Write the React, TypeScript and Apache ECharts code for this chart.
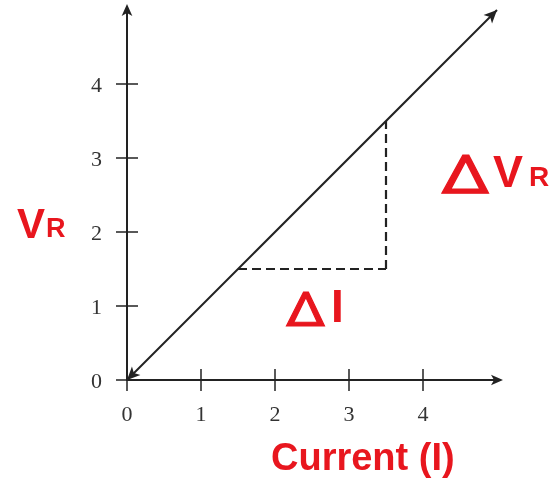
import React, { useEffect, useRef } from "react";
import * as echarts from "echarts";

// Axis range and tick values
const axisMax = 5;
const tickValues = [0, 1, 2, 3, 4];

// V = I·R line (double-headed) from origin
const linePoints: [number, number][] = [
  [0, 0],
  [5, 5],
];

// Slope triangle: horizontal ΔI leg and vertical ΔV_R leg
const deltaIStart: [number, number] = [1.5, 1.5];
const deltaIEnd: [number, number] = [3.5, 1.5];
const deltaVEnd: [number, number] = [3.5, 3.5];

const RED = "#e8161e";
const INK = "#222";
const LABEL_FONT = "'Liberation Sans', Arial, sans-serif";
const DELTA_FONT = "Roboto, sans-serif";
const TICK_FONT = "'Liberation Serif', 'DejaVu Serif', serif";
const TICK_HALF = 11;

function redText(text: string, left: number, top: number, fontSize: number, fontFamily = LABEL_FONT) {
  return {
    type: "text",
    left,
    top,
    silent: true,
    style: { text, fontFamily, fontWeight: "bold", fontSize, fill: RED },
  };
}

// Outlined delta sign, widened to the label's proportions
function delta(left: number, top: number, fontSize: number, scaleX: number) {
  return {
    type: "text",
    left,
    top,
    scaleX,
    silent: true,
    style: {
      text: "Δ",
      fontFamily: DELTA_FONT,
      fontWeight: "normal",
      fontSize,
      fill: RED,
      stroke: RED,
      lineWidth: 1,
    },
  };
}

export default function App() {
  const ref = useRef<HTMLDivElement>(null);

  useEffect(() => {
    if (!ref.current) return;
    const chart = echarts.init(ref.current, undefined, { renderer: "svg" });

    const axisCommon = {
      type: "value" as const,
      min: 0,
      max: axisMax,
      interval: 1,
      axisLine: {
        show: true,
        symbol: ["none", "arrow"],
        symbolSize: [8, 12],
        symbolOffset: [0, 6],
        lineStyle: { color: INK, width: 2 },
      },
      axisTick: { show: false },
      splitLine: { show: false },
      axisLabel: {
        color: "#333",
        fontFamily: TICK_FONT,
        fontSize: 22,
        formatter: (v: number) => (tickValues.includes(v) ? String(v) : ""),
      },
    };

    chart.setOption({
      animation: false,
      grid: { left: 127, top: 10, width: 370, height: 370 },
      xAxis: { ...axisCommon, axisLabel: { ...axisCommon.axisLabel, margin: 22 } },
      yAxis: { ...axisCommon, axisLabel: { ...axisCommon.axisLabel, margin: 25 } },
      series: [
        {
          type: "custom",
          data: tickValues.map((v) => [v, 0]),
          renderItem: (_p: any, api: any) => {
            const pt = api.coord([api.value(0), 0]);
            return {
              type: "line",
              shape: { x1: pt[0], y1: pt[1] - TICK_HALF, x2: pt[0], y2: pt[1] + TICK_HALF },
              style: { stroke: INK, lineWidth: 1.5 },
            };
          },
          silent: true,
        },
        {
          type: "custom",
          data: tickValues.map((v) => [0, v]),
          renderItem: (_p: any, api: any) => {
            const pt = api.coord([0, api.value(1)]);
            return {
              type: "line",
              shape: { x1: pt[0] - TICK_HALF, y1: pt[1], x2: pt[0] + TICK_HALF, y2: pt[1] },
              style: { stroke: INK, lineWidth: 1.5 },
            };
          },
          silent: true,
        },
        {
          type: "line",
          data: [],
          markLine: {
            silent: true,
            label: { show: false },
            data: [
              [
                { coord: linePoints[0], symbol: "arrow", symbolSize: [9, 13] },
                { coord: linePoints[1], symbol: "arrow", symbolSize: [9, 13] },
              ],
              [
                { coord: deltaIStart, symbol: "none", lineStyle: { type: [9, 5], width: 2.2, color: INK } },
                { coord: deltaIEnd, symbol: "none" },
              ],
              [
                { coord: deltaIEnd, symbol: "none", lineStyle: { type: [9, 5], width: 2.2, color: INK } },
                { coord: deltaVEnd, symbol: "none" },
              ],
            ],
            lineStyle: { color: INK, width: 2, type: "solid" },
          },
        },
      ],
      graphic: [
        // V_R (y-axis quantity)
        redText("V", 17, 202, 42),
        redText("R", 46, 214, 27),
        // ΔV_R
        delta(440, 147, 54, 1.3),
        redText("V", 493, 149, 45),
        redText("R", 529, 162, 28),
        // ΔI
        delta(285, 284, 49, 1.17),
        redText("I", 331, 283, 46),
        // x-axis quantity
        redText("Current (I)", 271, 438, 38),
      ],
    });

    return () => chart.dispose();
  }, []);

  return <div ref={ref} style={{ position: "fixed", left: 0, top: 0, width: 549, height: 481 }} />;
}
